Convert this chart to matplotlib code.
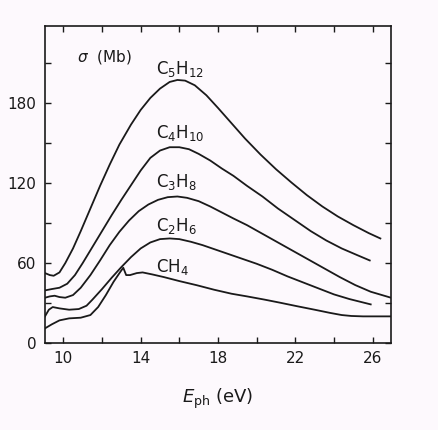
import matplotlib
matplotlib.use('Agg')
import matplotlib.pyplot as plt
from matplotlib.ticker import MultipleLocator

# photoabsorption cross sections sigma (Mb) vs photon energy (eV)
x_c5h12 = [9.05, 9.3, 9.5, 9.8, 10.1, 10.5, 10.9, 11.4, 11.9, 12.4, 12.9, 13.5, 14.0, 14.5, 15.0,
           15.5, 15.9, 16.3, 16.8, 17.4, 18.0, 18.7, 19.4, 20.2, 21.0, 21.8, 22.6, 23.4, 24.2, 25.0, 25.8, 26.4]
y_c5h12 = [52.5, 51, 50.5, 53, 60, 71, 84, 101, 118, 134, 149, 164, 175, 184, 191,
           196, 197.5, 197, 193.5, 186, 176.5, 165, 153.5, 141.5, 130.5, 120.5, 111, 102.5, 95, 88.5, 82.5, 78.5]

x_c4h10 = [9.05, 9.4, 9.8, 10.2, 10.6, 11.0, 11.5, 12.0, 12.5, 13.0, 13.5, 14.0, 14.5, 15.0, 15.5,
           16.0, 16.5, 17.0, 17.6, 18.2, 18.8, 19.5, 20.3, 21.1, 22.0, 22.8, 23.6, 24.4, 25.2, 25.85]
y_c4h10 = [39.5, 40.5, 41.5, 44.5, 51, 60, 72, 84, 96, 107.5, 118.5, 129.5, 139, 144.5, 147,
           147, 145.5, 142, 137, 131, 125.5, 118, 110, 101, 92, 84, 77, 71, 66, 62]

x_c3h8 = [9.05, 9.3, 9.55, 9.8, 10.1, 10.5, 10.9, 11.4, 11.9, 12.4, 12.9, 13.4, 13.9, 14.4, 14.9, 15.4,
          15.9, 16.4, 17.0, 17.6, 18.2, 18.8, 19.5, 20.3, 21.1, 21.9, 22.7, 23.5, 24.3, 25.1, 25.9, 26.95]
y_c3h8 = [34, 35, 35.5, 34.5, 34, 36, 41.5, 51, 62, 73.5, 83.5, 92, 99, 104, 107.5, 109.5,
          110, 109, 106.5, 102.5, 98, 93.5, 88.5, 82, 75.5, 69, 62.5, 56, 49.5, 43.5, 38.5, 34]

x_c2h6 = [9.05, 9.25, 9.45, 9.8, 10.3, 10.8, 11.2, 11.5, 12.0, 12.5, 13.0, 13.5, 14.0, 14.5, 15.0, 15.5,
          16.0, 16.6, 17.2, 17.8, 18.5, 19.2, 20.0, 20.8, 21.6, 22.4, 23.2, 24.0, 24.8, 25.9]
y_c2h6 = [20, 25, 27, 26, 25, 25.5, 28, 32.5, 40.5, 49, 57, 64.5, 71, 75.5, 78, 78.5,
          78, 76, 73.5, 70.5, 67, 63.5, 59.5, 55, 50, 45.5, 41, 36.5, 33, 29]

x_ch4 = [9.05, 9.4, 9.8, 10.3, 10.9, 11.4, 11.8, 12.2, 12.6, 12.95, 13.1, 13.25, 13.45, 13.8, 14.1,
         14.6, 15.2, 16.0, 16.9, 17.8, 18.7, 19.5, 20.4, 21.2, 22.1, 23.0, 23.8, 24.4, 24.9, 25.5, 26.95]
y_ch4 = [11, 14, 17, 18.5, 19, 21, 27, 36, 46, 53.5, 56.5, 51, 51, 52.5, 53,
         51.5, 49.5, 46.5, 43.4, 40, 37, 35, 32.6, 30.3, 27.6, 25, 22.6, 21, 20.3, 20, 20]

series = [(x_c5h12, y_c5h12), (x_c4h10, y_c4h10), (x_c3h8, y_c3h8), (x_c2h6, y_c2h6), (x_ch4, y_ch4)]
labels = [r'C$_5$H$_{12}$', r'C$_4$H$_{10}$', r'C$_3$H$_8$', r'C$_2$H$_6$', r'CH$_4$']
label_pos = [(14.8, 206), (14.8, 158), (14.8, 121), (14.8, 88), (14.8, 57)]

bg = '#fdf9fd'
fig = plt.figure(figsize=(4.38, 4.30), dpi=100, facecolor=bg)
ax = fig.add_axes([0.1027, 0.2023, 0.79, 0.7372], facecolor=bg)

for xs, ys in series:
    ax.plot(xs, ys, color='#1a1a1a', lw=1.3)

for lab, (lx, ly) in zip(labels, label_pos):
    ax.text(lx, ly, lab, fontsize=12, va='center', ha='left', color='#1a1a1a')

ax.text(10.7, 215, r'$\sigma$  (Mb)', fontsize=11, va='center', ha='left', color='#1a1a1a')

ax.set_xlim(9.05, 26.95)
ax.set_ylim(0, 238)
ax.xaxis.set_minor_locator(MultipleLocator(2))
ax.set_xticks([10, 14, 18, 22, 26])
ax.yaxis.set_major_locator(MultipleLocator(60))
ax.yaxis.set_minor_locator(MultipleLocator(30))
ax.tick_params(which='both', direction='in', top=True, right=True, length=4, width=1,
               labelsize=11, colors='#1a1a1a', pad=6)
for sp in ax.spines.values():
    sp.set_linewidth(1.2)
    sp.set_color('#1a1a1a')

ax.set_xlabel(r'$E_{\rm ph}$ (eV)', fontsize=13, labelpad=15, color='#1a1a1a')

fig.savefig('out.png', dpi=100, facecolor=bg)
